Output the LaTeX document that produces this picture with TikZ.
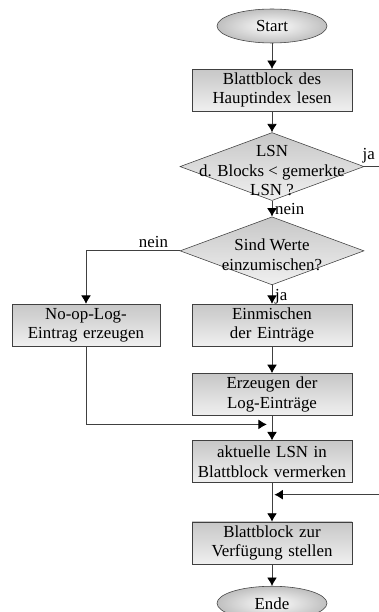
\documentclass[tikz,border=0pt]{standalone}
\usepackage{fontspec}
\setmainfont{Liberation Serif}
\usetikzlibrary{shapes.geometric,arrows.meta}
\tikzstyle{schritt}=[draw=black!75, top color=black!22, bottom color=black!6,
	text width=3.9cm, text centered, inner sep=1pt, minimum width=4.0cm, minimum height=1.05cm]
\tikzstyle{schrittlinks}=[schritt, text width=3.6cm, minimum width=3.7cm]
\tikzstyle{frage}=[diamond, draw=black!75, top color=black!22, bottom color=black!6,
	minimum width=4.6cm, minimum height=1.7cm, inner sep=0pt]
\tikzstyle{fragetext}=[align=center, inner sep=0pt, yshift=-0.1cm]
\tikzstyle{grenze}=[ellipse, draw=black!75, inner color=white, outer color=black!25,
	minimum width=2.75cm, minimum height=0.85cm]
\tikzstyle{line}=[draw, line width=0.6pt, color=black!75,
	-{Latex[length=6pt,width=7pt,color=black]}]
\tikzstyle{marke}=[inner sep=2pt, text=black]
\newcommand{\schritt}[2]{node (p#1) [schritt] {#2}}
\newcommand{\frage}[2]{node (p#1) [frage, label={[fragetext]center:{#2}}] {}}
\newcommand{\grenze}[2]{node (p#1) [grenze] {#2}}

\begin{document}
\begin{tikzpicture}[font=\fontsize{12}{13.7}\selectfont]
	\useasboundingbox (0,0) rectangle (9.475,-15.3);
	\coordinate (rechts) at (9.475,0);

	\path (6.8,-0.65) \grenze{1}{Start};
	\path (p1.south)+(0.0,-1.175) \schritt{2}{Blattblock des\\ Hauptindex lesen};
	\path (p2.south)+(0.0,-1.375) \frage{3}{LSN\\ d. Blocks < gemerkte\\ LSN ?};
	\path (p3.south)+(0.0,-1.25) \frage{4}{Sind Werte\\ einzumischen?};
	\path (p4.south)+(-4.65,-1.0) node (p5) [schrittlinks] {No-op-Log-\\ Eintrag erzeugen};
	\path (p4.south)+( 0.0,-1.0) \schritt{6}{Einmischen\\ der Einträge};
	\path (p6.south)+(0.0,-1.2) \schritt{7}{Erzeugen der\\ Log-Einträge};
	\path (p7.south)+(0.0,-1.15) \schritt{8}{aktuelle LSN in\\ Blattblock vermerken};
	\path (p8.south)+(0.0,-1.5) \schritt{9}{Blattblock zur\\ Verfügung stellen};
	\path (p9.south)+(0.0,-0.975) \grenze{10}{Ende};

	% Einmuendungen von links und von rechts
	\path (p8.north)+(-0.13,0.4) coordinate (m1);
	\path (p9.north)+(0.06,0.675) coordinate (m2);

	% Pfeile zwischen den Elementen
	\path [line] (p1) -- (p2);
	\path [line] (p2) -- (p3);
	\path [line] (p3) -- node [marke, right, pos=0.5] {nein} (p4);
	\path [draw, line width=0.6pt, black!75] (p3.east) -- node [marke, above, pos=0.3] {ja} (p3.east -| rechts);
	\path [line] (p4.west) -| node [marke, above, pos=0.14] {nein} (p5);
	\path [line] (p4) -- node [marke, right, pos=0.6] {ja} (p6);
	\path [line] (p5) |- (m1);
	\path [line] (p6) -- (p7);
	\path [line] (p7) -- (p8);
	\path [line] (p8) -- (p9);
	\path [line] (m2 -| rechts) -- (m2);
	\path [line] (p9) -- (p10);

\end{tikzpicture}
\end{document}
